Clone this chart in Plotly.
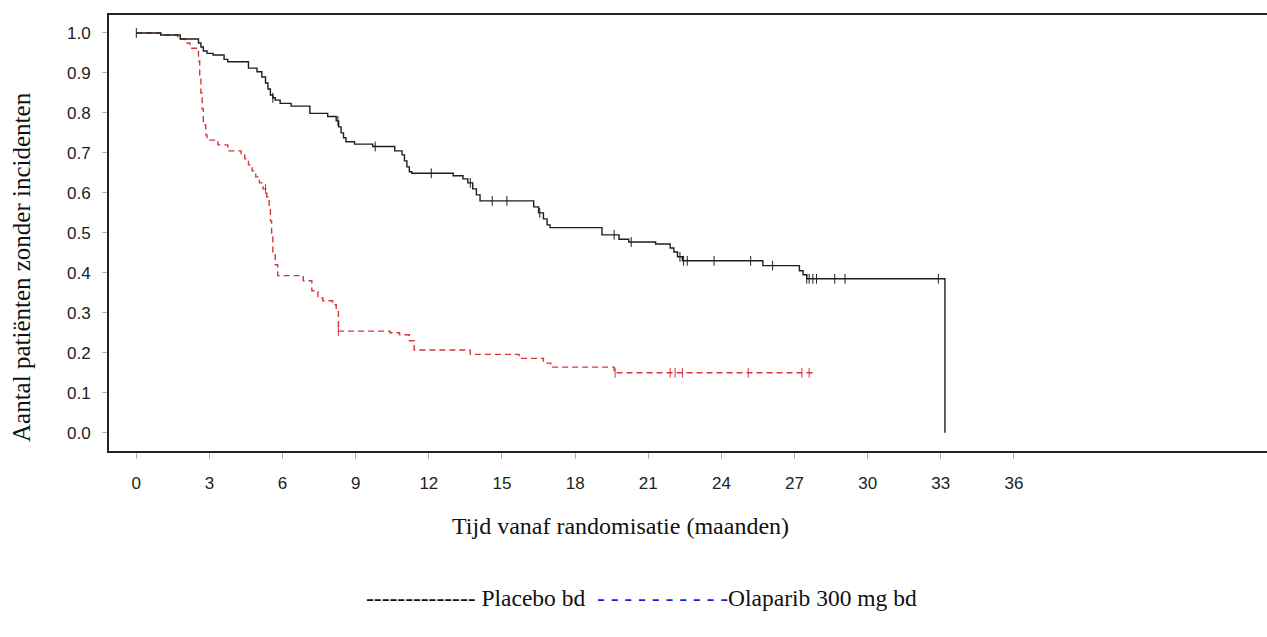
import plotly.graph_objects as go
import numpy as np

# Kaplan-Meier step data: time (months) and survival after each step
olaparib_t = [0.0, 1.0, 1.8, 2.55, 2.65, 2.75, 2.9, 3.15, 3.6, 3.75, 4.6, 4.95, 5.15, 5.3,
              5.4, 5.5, 5.6, 5.7, 5.9, 6.35, 7.12, 7.85, 8.2, 8.3, 8.4, 8.5, 8.6, 8.95,
              9.7, 10.6, 10.9, 11.0, 11.1, 11.2, 11.3, 13.0, 13.4, 13.6, 13.8, 13.95,
              14.1, 16.3, 16.5, 16.7, 16.85, 16.97, 19.1, 19.8, 20.2, 21.3, 21.9, 22.05,
              22.2, 22.4, 25.7, 27.2, 27.35, 27.5, 33.17]
olaparib_s = [1.0, 0.995, 0.985, 0.975, 0.965, 0.955, 0.949, 0.945, 0.934, 0.928, 0.912,
              0.903, 0.89, 0.875, 0.86, 0.845, 0.838, 0.832, 0.824, 0.817, 0.799, 0.791,
              0.78, 0.765, 0.75, 0.738, 0.728, 0.722, 0.716, 0.705, 0.695, 0.68, 0.665,
              0.653, 0.649, 0.643, 0.635, 0.625, 0.61, 0.595, 0.58, 0.565, 0.55, 0.535,
              0.52, 0.513, 0.495, 0.484, 0.477, 0.472, 0.462, 0.452, 0.44, 0.43, 0.418,
              0.405, 0.395, 0.385, 0.0]
olaparib_censor = [0.0, 5.6, 8.27, 9.8, 12.1, 13.7, 14.6, 15.2, 16.55, 19.6, 20.3, 22.3,
                   22.45, 22.6, 23.7, 25.2, 26.1, 27.5, 27.6, 27.75, 27.9, 28.65, 29.07, 32.9]

placebo_t = [0.0, 1.0, 1.7, 2.0, 2.2, 2.55, 2.6, 2.65, 2.7, 2.75, 2.85, 2.9, 3.35, 3.75,
             4.3, 4.45, 4.6, 4.75, 4.9, 5.05, 5.2, 5.35, 5.45, 5.5, 5.55, 5.6, 5.7, 5.8,
             6.85, 7.2, 7.45, 7.65, 8.05, 8.2, 8.29, 10.4, 10.8, 11.2, 11.4, 13.7, 15.7,
             16.7, 17.0, 19.6, 27.8]
placebo_s = [1.0, 0.995, 0.985, 0.975, 0.962, 0.93, 0.89, 0.85, 0.81, 0.77, 0.745, 0.732,
             0.72, 0.705, 0.698, 0.685, 0.67, 0.655, 0.64, 0.625, 0.61, 0.59, 0.56, 0.53,
             0.49, 0.45, 0.42, 0.393, 0.38, 0.355, 0.337, 0.33, 0.32, 0.307, 0.254, 0.25,
             0.245, 0.23, 0.207, 0.196, 0.186, 0.174, 0.164, 0.15, 0.15]
placebo_censor = [5.3, 8.29, 19.64, 21.9, 22.1, 22.4, 25.1, 27.3, 27.6]

x_ticks = list(range(0, 37, 3))
y_ticks = [round(v * 0.1, 1) for v in range(0, 11)]

x_title = "Tijd vanaf randomisatie (maanden)"
y_title = "Aantal patiënten zonder incidenten"


def step_value(times, surv, t):
    idx = np.searchsorted(times, t, side="right") - 1
    return surv[max(idx, 0)]


BLACK = "#1e1e1e"
RED = "#d8343c"

fig = go.Figure()

fig.add_trace(go.Scatter(
    x=placebo_t, y=placebo_s, mode="lines", line_shape="hv",
    line=dict(color=RED, width=1.4, dash="6px,4px"), showlegend=False,
))
fig.add_trace(go.Scatter(
    x=placebo_censor, y=[step_value(placebo_t, placebo_s, t) for t in placebo_censor],
    mode="markers", marker=dict(symbol="line-ns-open", size=7, color=RED,
                                line=dict(color=RED, width=1)),
    showlegend=False,
))
fig.add_trace(go.Scatter(
    x=olaparib_t, y=olaparib_s, mode="lines", line_shape="hv",
    line=dict(color=BLACK, width=1.4), showlegend=False,
))
fig.add_trace(go.Scatter(
    x=olaparib_censor, y=[step_value(olaparib_t, olaparib_s, t) for t in olaparib_censor],
    mode="markers", marker=dict(symbol="line-ns-open", size=7, color=BLACK,
                                line=dict(color=BLACK, width=1)),
    showlegend=False,
))

tick_font = dict(family="Liberation Sans, Arial, sans-serif", size=17, color="#222")
serif = "Liberation Serif, Times New Roman, serif"

fig.update_xaxes(
    range=[-1.12, 46.38], tickvals=x_ticks, ticktext=[str(v) for v in x_ticks],
    showgrid=False, zeroline=False, showline=True, linewidth=2, linecolor="#222",
    mirror=True, ticks="outside", ticklen=6, tickwidth=1, tickcolor="#b0b0b0",
    tickfont=tick_font, ticklabelstandoff=10,
)
fig.update_yaxes(
    range=[-0.0458, 1.045], tickvals=y_ticks, ticktext=[f"{v:.1f}" for v in y_ticks],
    showgrid=False, zeroline=False, showline=True, linewidth=2, linecolor="#222",
    ticks="outside", ticklen=5, tickwidth=1, tickcolor="#b0b0b0",
    tickfont=tick_font, ticklabelstandoff=8,
)

nb = "\u00a0"
blue_dashes = (("-" + nb) * 9) + "-"
legend_text = ("-" * 14 + nb + "Placebo bd" + nb * 2
               + f"<span style='color:#1a1ad8'>{blue_dashes}</span>"
               + "Olaparib 300 mg bd")

fig.add_annotation(text=x_title, xref="paper", yref="paper", x=0.442, y=-0.172,
                   showarrow=False, font=dict(family=serif, size=24, color="#111"),
                   xanchor="center", yanchor="middle")
fig.add_annotation(text=y_title, xref="paper", yref="paper", x=-0.076, y=0.422,
                   textangle=-90, showarrow=False,
                   font=dict(family=serif, size=25, color="#111"),
                   xanchor="center", yanchor="middle")
fig.add_annotation(text=legend_text, xref="paper", yref="paper", x=0.460, y=-0.337,
                   showarrow=False, font=dict(family=serif, size=23.5, color="#111"),
                   xanchor="center", yanchor="middle")

fig.update_layout(
    width=1267, height=637,
    margin=dict(l=109, r=0, t=15, b=186),
    paper_bgcolor="white", plot_bgcolor="white",
)

fig.write_html("out.html")
